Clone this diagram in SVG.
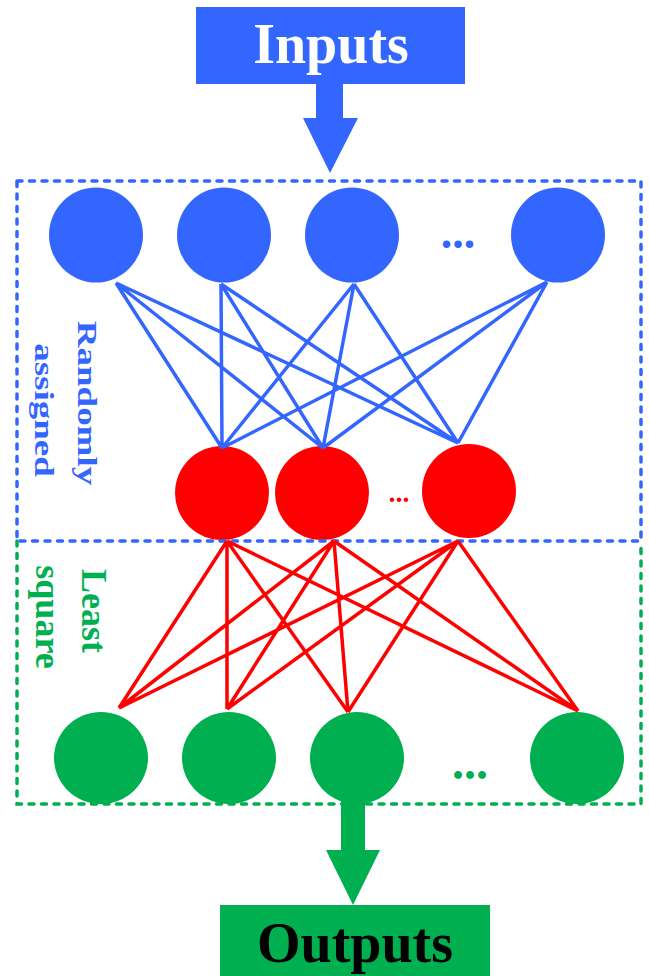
<svg xmlns="http://www.w3.org/2000/svg" width="649" height="976" viewBox="0 0 649 976">
<style>
.blue{fill:#3366FF}
.red{fill:#FF0000}
.green{fill:#00B050}
.t{font-family:"Liberation Serif","Times New Roman",serif;font-weight:bold}
.bl{stroke:#3366FF;stroke-width:3.5;fill:none}
.rl{stroke:#FF0000;stroke-width:3.5;fill:none}
.dashb{stroke:#3366FF;stroke-width:3.5;fill:none;stroke-dasharray:5 7.5;stroke-linecap:round}
.dashg{stroke:#00B050;stroke-width:3.5;fill:none;stroke-dasharray:5 7.5;stroke-linecap:round}
</style>
<rect width="649" height="976" fill="#fff"/>
<g id="inputs">
<rect class="blue" x="196" y="7" width="269" height="77"/>
<text class="t" x="331" y="63" font-size="56" fill="#fff" text-anchor="middle">Inputs</text>
</g>
<g id="input-arrow"><path class="blue" d="M316,84 H343 V118 H358 L330,173 L303,118 H316 Z"/></g>
<g id="input-nodes">
<ellipse class="blue" cx="96" cy="235" rx="47" ry="47.5"/>
<ellipse class="blue" cx="224" cy="235" rx="47" ry="47.5"/>
<ellipse class="blue" cx="352" cy="235" rx="47" ry="47.5"/>
<ellipse class="blue" cx="558" cy="235" rx="47" ry="47.5"/>
<text class="t blue" x="458" y="248" font-size="46" text-anchor="middle">...</text>
</g>
<g id="hidden-nodes">
<ellipse class="red" cx="222" cy="493" rx="47" ry="47"/>
<ellipse class="red" cx="322" cy="493" rx="47" ry="47"/>
<ellipse class="red" cx="469" cy="491" rx="47" ry="47"/>
<text class="t red" x="399" y="502" font-size="28" text-anchor="middle">...</text>
</g>
<g id="output-nodes">
<ellipse class="green" cx="101" cy="758" rx="47" ry="46"/>
<ellipse class="green" cx="229" cy="758" rx="47" ry="46"/>
<ellipse class="green" cx="357" cy="758" rx="47" ry="46"/>
<ellipse class="green" cx="577" cy="758" rx="47" ry="46"/>
<text class="t green" x="470" y="779" font-size="48" text-anchor="middle">...</text>
</g>
<g id="green-box"><path class="dashg" d="M17,541 V804 H641 V541"/></g>
<g id="blue-box"><rect class="dashb" x="17" y="181" width="624" height="360"/></g>
<g id="connectors">
<path class="bl" d="M116,283 L222,448 M116,283 L323,448 M116,283 L458,443
M221,284 L222,448 M221,284 L323,448 M221,284 L458,443
M354,284 L222,448 M354,284 L323,448 M354,284 L458,443
M547,282 L222,448 M547,282 L323,448 M547,282 L458,443"/>
<path class="rl" d="M227,541 L119,708 M227,541 L227,709 M227,541 L348,712 M227,541 L578,711
M334,541 L119,708 M334,541 L227,709 M334,541 L348,712 M334,541 L578,711
M458,541 L119,708 M458,541 L227,709 M458,541 L348,712 M458,541 L578,711"/>
</g>
<g id="label-random">
<text class="t blue" font-size="37" text-anchor="middle" transform="translate(78,403) rotate(90) scale(1,0.75)">Randomly</text>
<text class="t blue" font-size="37" text-anchor="middle" transform="translate(35,410) rotate(90) scale(1,0.75)">assigned</text>
</g>
<g id="label-least">
<text class="t green" font-size="36" text-anchor="middle" transform="translate(82,611) rotate(90)">Least</text>
<text class="t green" font-size="36" text-anchor="middle" transform="translate(36,617) rotate(90)">square</text>
</g>
<g id="output-arrow"><path class="green" d="M341,800 H365 V850 H380 L353,905 L326,850 H341 Z"/></g>
<g id="outputs">
<rect class="green" x="220" y="905" width="270" height="75"/>
<text class="t" x="355" y="962" font-size="56" fill="#000" text-anchor="middle">Outputs</text>
</g>
</svg>
